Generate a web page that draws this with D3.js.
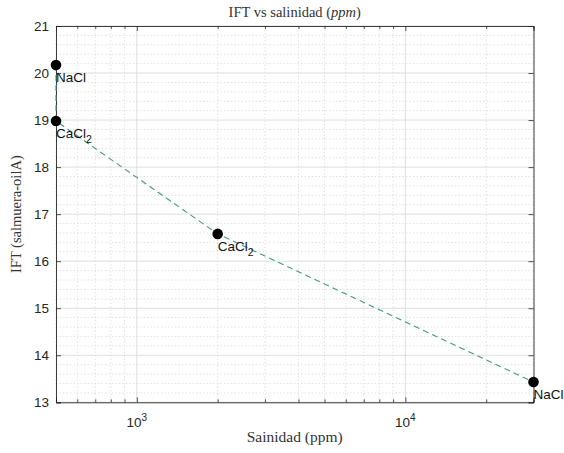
<!DOCTYPE html>
<html>
<head>
<meta charset="utf-8">
<script src="https://cdn.jsdelivr.net/npm/d3@7"></script>
<style>
  body { margin: 0; background: #fff; }
  svg { display: block; }
  .tick text { font-family: Arial, "Liberation Sans", Helvetica, sans-serif; font-size: 13.5px; fill: #262626; }
  .lbl { font-family: "Liberation Serif", "Times New Roman", serif; fill: #333; }
  .ann { font-family: Arial, "Liberation Sans", Helvetica, sans-serif; font-size: 13.5px; fill: #111; }
</style>
</head>
<body>
<svg id="chart" width="564" height="453"></svg>
<script>
// Salinity (ppm) and interfacial tension for each brine sample
const salinity = [500, 500, 2000, 30000];
const ift = [20.17, 18.98, 16.58, 13.43];
const salts = ["NaCl", "CaCl2", "CaCl2", "NaCl"];

const yTicks = [13, 14, 15, 16, 17, 18, 19, 20, 21];
const xTicks = [1000, 10000];
const xTickExp = ["3", "4"];

const svg = d3.select("#chart");
const margin = { left: 56, top: 26, right: 564 - 533.5, bottom: 453 - 402.3 };
const W = 564, H = 453;
const x0 = margin.left, x1 = W - margin.right, y0 = margin.top, y1 = H - margin.bottom;

const x = d3.scaleLog().domain([500, 30000]).range([x0, x1]);
const y = d3.scaleLinear().domain([13, 21]).range([y1, y0]);

// Minor grid values
const xMinor = [];
for (let d = 100; d <= 10000; d *= 10)
  for (let k = 2; k <= 9; k++) {
    const v = k * d;
    if (v >= 500 && v <= 30000 && v !== 1000 && v !== 10000) xMinor.push(v);
  }
const yMinor = [];
for (let v = 13; v < 21; v++) for (let k = 1; k < 5; k++) yMinor.push(v + k * 0.2);

const grid = svg.append("g");
grid.selectAll(".xm").data(xMinor).join("line")
  .attr("x1", d => x(d)).attr("x2", d => x(d)).attr("y1", y0).attr("y2", y1)
  .attr("stroke", "#d4d4d4").attr("stroke-width", 0.7).attr("stroke-dasharray", "1.5,2");
grid.selectAll(".ym").data(yMinor).join("line")
  .attr("y1", d => y(d)).attr("y2", d => y(d)).attr("x1", x0).attr("x2", x1)
  .attr("stroke", "#d4d4d4").attr("stroke-width", 0.7).attr("stroke-dasharray", "1.5,2");
grid.selectAll(".xM").data(xTicks).join("line")
  .attr("x1", d => x(d)).attr("x2", d => x(d)).attr("y1", y0).attr("y2", y1)
  .attr("stroke", "#dadada").attr("stroke-width", 0.9);
grid.selectAll(".yM").data(yTicks).join("line")
  .attr("y1", d => y(d)).attr("y2", d => y(d)).attr("x1", x0).attr("x2", x1)
  .attr("stroke", "#dadada").attr("stroke-width", 0.9);

// Axes (ticks pointing inward, box on all four sides)
const axisColor = "#262626";
const yAxis = svg.append("g").attr("transform", `translate(${x0},0)`)
  .call(d3.axisLeft(y).tickValues(yTicks).tickSize(-5).tickPadding(7).tickFormat(d3.format("d")));
const yAxisR = svg.append("g").attr("transform", `translate(${x1},0)`)
  .call(d3.axisRight(y).tickValues(yTicks).tickSize(-5).tickFormat(""));
const xAxis = svg.append("g").attr("transform", `translate(0,${y1})`)
  .call(d3.axisBottom(x).tickValues(xTicks).tickSize(-5).tickFormat(""));
const xAxisMinor = svg.append("g").attr("transform", `translate(0,${y1})`)
  .call(d3.axisBottom(x).tickValues(xMinor).tickSize(-3).tickFormat(""));
const xAxisT = svg.append("g").attr("transform", `translate(0,${y0})`)
  .call(d3.axisTop(x).tickValues(xTicks).tickSize(-5).tickFormat(""));
const xAxisTMinor = svg.append("g").attr("transform", `translate(0,${y0})`)
  .call(d3.axisTop(x).tickValues(xMinor).tickSize(-3).tickFormat(""));
[yAxis, yAxisR, xAxis, xAxisMinor, xAxisT, xAxisTMinor].forEach(g => {
  g.selectAll("path").attr("stroke", axisColor).attr("stroke-width", 0.9);
  g.selectAll("line").attr("stroke", axisColor).attr("stroke-width", 0.8);
});
xAxisMinor.select("path").remove();
xAxisTMinor.select("path").remove();

// Decade labels 10^n
const xl = svg.append("g");
xTicks.forEach((v, i) => {
  const t = xl.append("text").attr("x", x(v)).attr("y", y1 + 25)
    .attr("text-anchor", "middle")
    .attr("font-family", "Arial, 'Liberation Sans', sans-serif").attr("font-size", 13.5).attr("fill", "#262626");
  t.append("tspan").text("10");
  t.append("tspan").attr("dy", -6).attr("font-size", 10).text(xTickExp[i]);
});

// Data line
const pts = salinity.map((s, i) => ({ s, v: ift[i], name: salts[i] }));
svg.append("path").datum(pts)
  .attr("fill", "none").attr("stroke", "#3f9a86").attr("stroke-width", 1.1)
  .attr("stroke-dasharray", "6,4")
  .attr("d", d3.line().x(d => x(d.s)).y(d => y(d.v)));

svg.selectAll(".pt").data(pts).join("circle")
  .attr("cx", d => x(d.s)).attr("cy", d => y(d.v)).attr("r", 5.3).attr("fill", "#000");

// Salt annotations with chemical subscripts
svg.selectAll(".ann").data(pts).join("text").attr("class", "ann")
  .attr("x", d => x(d.s)).attr("y", d => y(d.v) + 17)
  .each(function(d) {
    const t = d3.select(this);
    const m = d.name.match(/^([A-Za-z]+?)(\d*)$/);
    t.append("tspan").text(m[1]);
    if (m[2]) t.append("tspan").attr("dy", 5).attr("font-size", 10.5).text(m[2]);
  });

// Titles
const title = svg.append("text").attr("class", "lbl").attr("x", (x0 + x1) / 2).attr("y", 17)
  .attr("text-anchor", "middle").attr("font-size", 14.5);
title.append("tspan").text("IFT vs salinidad (");
title.append("tspan").attr("font-style", "italic").text("ppm");
title.append("tspan").text(")");

svg.append("text").attr("class", "lbl").attr("x", (x0 + x1) / 2).attr("y", 442)
  .attr("text-anchor", "middle").attr("font-size", 15.5).text("Sainidad (ppm)");

svg.append("text").attr("class", "lbl")
  .attr("transform", `translate(21,${(y0 + y1) / 2}) rotate(-90)`)
  .attr("text-anchor", "middle").attr("font-size", 14.5).text("IFT (salmuera-oilA)");
</script>
</body>
</html>
